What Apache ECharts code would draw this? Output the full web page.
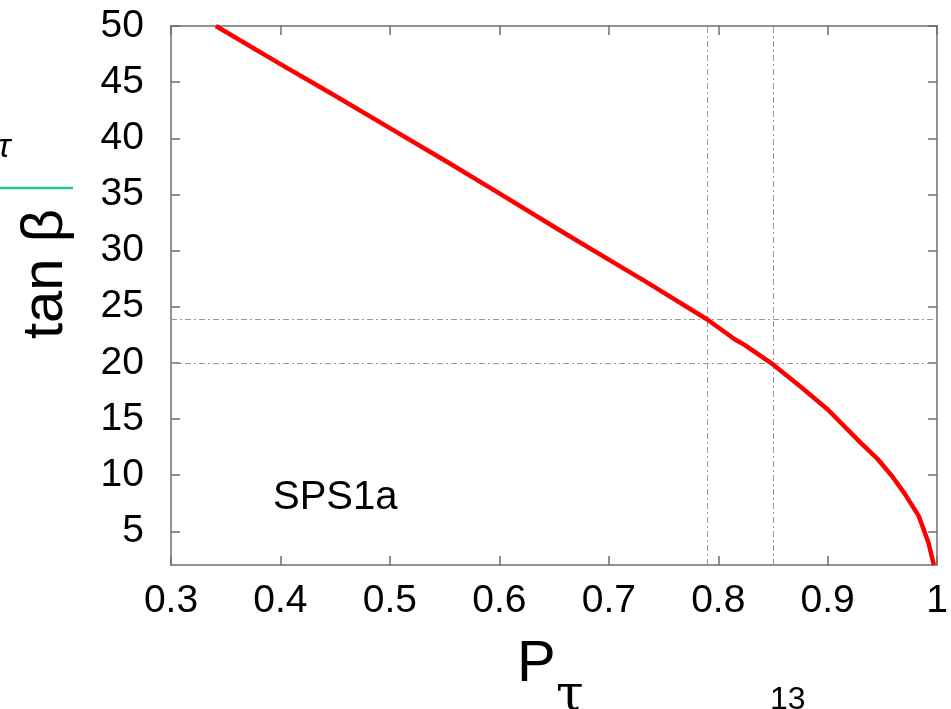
<!DOCTYPE html>
<html><head><meta charset="utf-8">
<script src="https://cdn.jsdelivr.net/npm/echarts@6/dist/echarts.min.js"></script>
<style>html,body{margin:0;padding:0;background:#fff}#c{width:951px;height:709px}</style>
</head><body><div id="c"></div>
<script>
const pTau = [0.341,0.4,0.448,0.5,0.554,0.6,0.657,0.7,0.736,0.79,0.815,0.824,0.85,0.875,0.9,0.93,0.945,0.9585,0.97,0.983,0.992,0.997];
const tanBeta = [50,46.6,43.9,40.9,37.8,35.1,31.7,29.2,27.1,23.86,22.1,21.6,19.86,17.9,15.85,12.9,11.5,9.95,8.4,6.4,4.0,2.0];
const xTicks = [0.3,0.4,0.5,0.6,0.7,0.8,0.9,1];
const yTicks = [5,10,15,20,25,30,35,40,45,50];
const refX = [0.79,0.85];
const refY = [23.9,20];

const chart = echarts.init(document.getElementById('c'));
const axisCol = '#6e6e6e';
const font = 'Liberation Sans, Arial, sans-serif';
const lineData = pTau.map((x,i)=>[x,tanBeta[i]]);
const refStyle = {color:'#9a9a9a', width:1, type:[6,3,2,3]};
const markData = refX.map(v=>({xAxis:v})).concat(refY.map(v=>({yAxis:v})));

chart.setOption({
  animation:false,
  grid:{left:171,right:10,top:26,bottom:144},
  xAxis:[{
    type:'value', min:0.3, max:1, interval:0.1,
    axisLine:{lineStyle:{color:axisCol,width:1.5}},
    axisTick:{inside:true,length:9,lineStyle:{color:axisCol,width:1.5}},
    axisLabel:{color:'#000',fontSize:39,fontFamily:font,margin:17,
      formatter:v=>{const t=xTicks.find(k=>Math.abs(k-v)<1e-6);return t===undefined?'':String(t);}},
    splitLine:{show:false}
  },{
    type:'value', min:0.3, max:1, interval:0.1, position:'top',
    axisLine:{lineStyle:{color:axisCol,width:1.5}},
    axisTick:{inside:true,length:9,lineStyle:{color:axisCol,width:1.5}},
    axisLabel:{show:false}, splitLine:{show:false}
  }],
  yAxis:[{
    type:'value', min:2, max:50,
    axisLine:{lineStyle:{color:axisCol,width:1.5}},
    axisTick:{inside:true,length:9,customValues:yTicks,lineStyle:{color:axisCol,width:1.5}},
    axisLabel:{color:'#000',fontSize:39,fontFamily:font,margin:27,customValues:yTicks},
    splitLine:{show:false}
  },{
    type:'value', min:2, max:50, position:'right',
    axisLine:{lineStyle:{color:axisCol,width:1.5}},
    axisTick:{inside:true,length:9,customValues:yTicks,lineStyle:{color:axisCol,width:1.5}},
    axisLabel:{show:false}, splitLine:{show:false}
  }],
  series:[{
    type:'line', data:lineData, showSymbol:false, symbol:'none',
    smooth:false,
    lineStyle:{color:'#ff0000',width:4.5,join:'round'}, z:5,
    markLine:{silent:true,symbol:'none',label:{show:false},lineStyle:refStyle,data:markData,z:1}
  }],
  graphic:[
    {type:'text',x:273,y:478,style:{text:'SPS1a',font:'40px '+font,fill:'#000'}},
    {type:'text',x:46,y:274,rotation:Math.PI/2,style:{text:'tan β',font:'58px '+font,fill:'#000',textAlign:'center',textVerticalAlign:'middle'}},
    {type:'text',x:517,y:636,style:{text:'P',font:'58px '+font,fill:'#000'}},
    {type:'text',x:556,y:672,style:{text:'τ',font:'50px "DejaVu Serif", "Liberation Serif", serif',fill:'#000'}},
    {type:'text',x:770,y:684,style:{text:'13',font:'32px '+font,fill:'#000'}},
    {type:'text',x:-2,y:131,style:{text:'τ',font:'italic 33px '+font,fill:'#000'}},
    {type:'line',shape:{x1:0,y1:188,x2:73,y2:188},style:{stroke:'#1fc99a',lineWidth:2.5}}
  ]
});
</script></body></html>
